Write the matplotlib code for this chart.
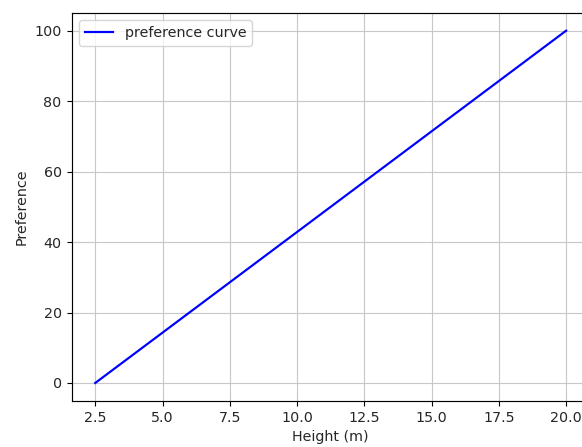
import matplotlib
matplotlib.use('Agg')
import matplotlib.pyplot as plt

# Values.
heights = [2.5, 20.0]
preference = [0, 100]

scale = 1.05
plt.rcParams['font.size'] = 10.3
plt.rcParams['text.color'] = '#262626'
plt.rcParams['axes.labelcolor'] = '#262626'
plt.rcParams['xtick.labelcolor'] = '#262626'
plt.rcParams['ytick.labelcolor'] = '#262626'
plt.rcParams['xtick.major.size'] = 3.5 * scale
plt.rcParams['ytick.major.size'] = 3.5 * scale
plt.rcParams['axes.linewidth'] = 0.8 * scale

fig = plt.figure(figsize=(5.82, 4.47), dpi=100)
# Axes run past the right edge, as in the cropped reference.
ax = fig.add_axes([0.1232, 0.1038, 0.890, 0.867])
ax.plot(heights, preference, color='b', linewidth=1.5 * scale,
        label='preference curve')
ax.set_xlabel('Height (m)')
ax.set_ylabel('Preference')
ax.set_xticks([2.5, 5.0, 7.5, 10.0, 12.5, 15.0, 17.5, 20.0])
ax.grid(True, color='#c8c8c8')
ax.legend(loc='upper left')
fig.savefig('out.png', dpi=100)
